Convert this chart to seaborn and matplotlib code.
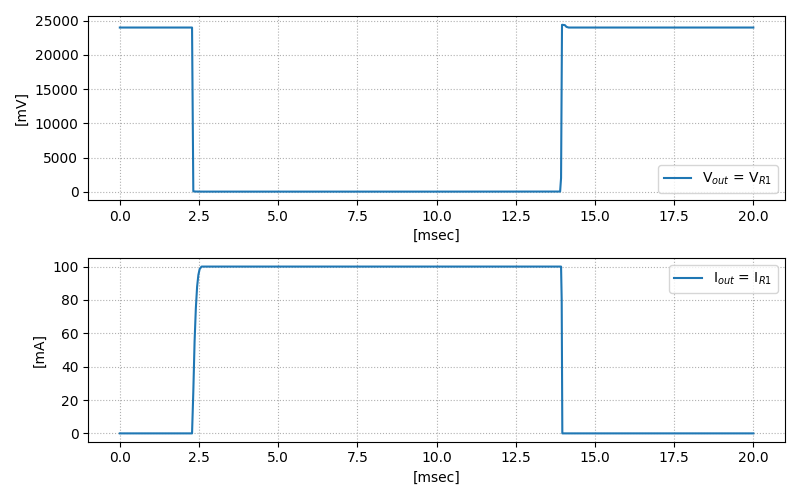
import matplotlib
matplotlib.use("Agg")
import matplotlib.pyplot as plt
import seaborn as sns

# output voltage [mV] vs time [msec]
t_v = [0.0, 2.28, 2.30, 2.32, 2.40, 2.60, 5.0, 10.0, 13.90, 13.93, 13.96, 14.05, 14.10, 14.17, 17.0, 20.0]
v_out = [24000, 24000, 12000, 60, 30, 20, 20, 20, 30, 2000, 24400, 24350, 24100, 24000, 24000, 24000]

# output current [mA] vs time [msec]
t_i = [0.0, 2.28, 2.32, 2.36, 2.40, 2.44, 2.48, 2.52, 2.58, 5.0, 10.0, 13.93, 13.95, 13.97, 17.0, 20.0]
i_out = [0.0, 0.0, 25, 55, 75, 88, 95, 98.5, 100, 100, 100, 100, 80, 0.0, 0.0, 0.0]

fig, (ax1, ax2) = plt.subplots(2, 1, figsize=(8, 5), dpi=100)

sns.lineplot(x=t_v, y=v_out, ax=ax1, sort=False, estimator=None, color="#1f77b4",
             label=r"V$_{out}$ = V$_{R1}$")
ax1.set_xlabel("[msec]")
ax1.set_ylabel("[mV]")
ax1.grid(True, linestyle=":")
ax1.legend(loc="lower right")

sns.lineplot(x=t_i, y=i_out, ax=ax2, sort=False, estimator=None, color="#1f77b4",
             label=r"I$_{out}$ = I$_{R1}$")
ax2.set_xlabel("[msec]")
ax2.set_ylabel("[mA]")
ax2.grid(True, linestyle=":")
ax2.legend(loc="upper right")

fig.tight_layout()
fig.savefig("out.png")
